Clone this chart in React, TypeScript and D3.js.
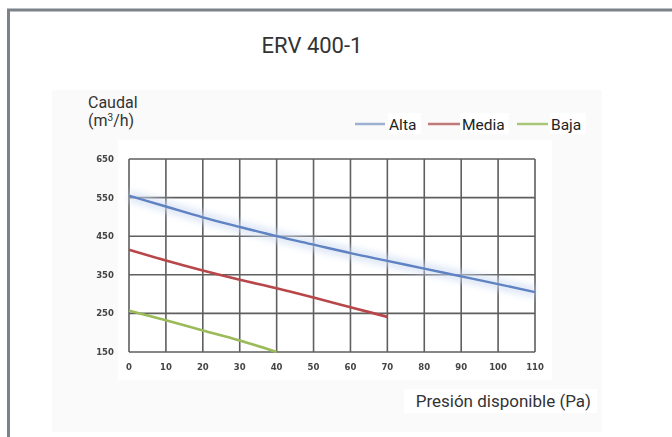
import React from "react";
import * as d3 from "d3";

const pressure = [0, 10, 20, 30, 40, 50, 60, 70, 80, 90, 100, 110];
const altaValues = [555, 527, 499, 474, 450, 428, 406, 386, 366, 346, 326, 305];
const mediaPressure = [0, 10, 20, 30, 40, 50, 60, 70];
const mediaValues = [415, 387, 361, 337, 315, 291, 266, 241];
const bajaPressure = [0, 10, 20, 30, 40];
const bajaValues = [257, 232, 206, 180, 150];
const xTicks = [0, 10, 20, 30, 40, 50, 60, 70, 80, 90, 100, 110];
const yTicks = [150, 250, 350, 450, 550, 650];
const seriesNames = ["Alta", "Media", "Baja"];

export default function App() {
  const W = 672, H = 437;
  const x = d3.scaleLinear().domain([0, 110]).range([129, 535]);
  const y = d3.scaleLinear().domain([150, 650]).range([352, 159]);
  const line = d3
    .line<[number, number]>()
    .x((d) => x(d[0]))
    .y((d) => y(d[1]))
    .curve(d3.curveMonotoneX);
  const alta = line(pressure.map((p, i) => [p, altaValues[i]]))!;
  const media = line(mediaPressure.map((p, i) => [p, mediaValues[i]]))!;
  const baja = line(bajaPressure.map((p, i) => [p, bajaValues[i]]))!;
  const colors = ["#5f82c2", "#b8474b", "#9bbb59"];
  const legendColors = ["#9fb1d3", "#c07a7c", "#a9c57a"];
  const legend = [
    { x1: 355, x2: 385, tx: 389, w: 33 },
    { x1: 428, x2: 460, tx: 462, w: 48 },
    { x1: 517, x2: 548, tx: 551, w: 36 },
  ];
  const font = "Roboto, 'Noto Sans', sans-serif";
  return (
    <svg
      width={W}
      height={H}
      style={{ position: "absolute", left: 0, top: 0, background: "#fff" }}
    >
      <defs>
        <filter id="soft" x="-5%" y="-5%" width="110%" height="110%">
          <feGaussianBlur stdDeviation="0.6" />
        </filter>
        <filter id="glow" x="-5%" y="-20%" width="110%" height="140%">
          <feGaussianBlur stdDeviation="3" />
        </filter>
        <filter id="tick" x="-20%" y="-20%" width="140%" height="140%">
          <feGaussianBlur stdDeviation="0.55" />
        </filter>
      </defs>
      <rect x={0} y={0} width={W} height={H} fill="#fff" />
      {/* frame */}
      <line x1={7} y1={10} x2={W} y2={10} stroke="#7b8289" strokeWidth={3} />
      <line x1={8.5} y1={9} x2={8.5} y2={H} stroke="#7b8289" strokeWidth={3} />
      {/* faint panel */}
      <rect x={52} y={90} width={550} height={342} fill="#fafafa" />
      <text x={312} y={53} textAnchor="middle" fontFamily={font} fontSize={22} fill="#333">
        ERV 400-1
      </text>
      <text x={88} y={108} fontFamily={font} fontSize={16} fill="#333">
        Caudal
      </text>
      <text x={88} y={126} fontFamily={font} fontSize={16} fill="#333">
        (m<tspan fontSize={10} dy={-5}>3</tspan>
        <tspan dy={5}>/h)</tspan>
      </text>
      {/* plot area */}
      <rect x={118} y={140} width={434} height={240} fill="#fff" />
      <g filter="url(#soft)">
        {xTicks.map((t) => (
          <line key={"gx" + t} x1={x(t)} x2={x(t)} y1={y(650)} y2={y(150)} stroke="#5e5e5e" strokeWidth={1.6} />
        ))}
        {yTicks.map((t) => (
          <line key={"gy" + t} x1={x(0)} x2={x(110)} y1={y(t)} y2={y(t)} stroke="#5e5e5e" strokeWidth={1.6} />
        ))}
        <path d={alta} fill="none" stroke="#cfdcf2" strokeWidth={12} opacity={0.6} filter="url(#glow)" />
        <path d={alta} fill="none" stroke={colors[0]} strokeWidth={2.4} />
        <path d={media} fill="none" stroke={colors[1]} strokeWidth={2.6} />
        <path d={baja} fill="none" stroke={colors[2]} strokeWidth={2.6} />
      </g>
      <g filter="url(#tick)" fontFamily="'DejaVu Sans', sans-serif" fontSize={8.5} fill="#444" fontWeight="bold">
        {yTicks.map((t) => (
          <text key={"ty" + t} x={105} y={y(t) + 3} textAnchor="middle">
            {t}
          </text>
        ))}
        {xTicks.map((t) => (
          <text key={"tx" + t} x={x(t)} y={370} textAnchor="middle">
            {t}
          </text>
        ))}
      </g>
      {/* legend */}
      {seriesNames.map((n, i) => (
        <g key={n}>
          <line x1={legend[i].x1} x2={legend[i].x2} y1={124} y2={124} stroke={legendColors[i]} strokeWidth={2.5} />
          <rect x={legend[i].tx - 1} y={113} width={legend[i].w} height={21} fill="#fff" />
          <text x={legend[i].tx} y={130} fontFamily={font} fontSize={15.5} fill="#222">
            {n}
          </text>
        </g>
      ))}
      <rect x={404} y={389} width={193} height={24} fill="#fff" />
      <text x={591} y={407} textAnchor="end" fontFamily={font} fontSize={17} fill="#333">
        Presión disponible (Pa)
      </text>
    </svg>
  );
}
